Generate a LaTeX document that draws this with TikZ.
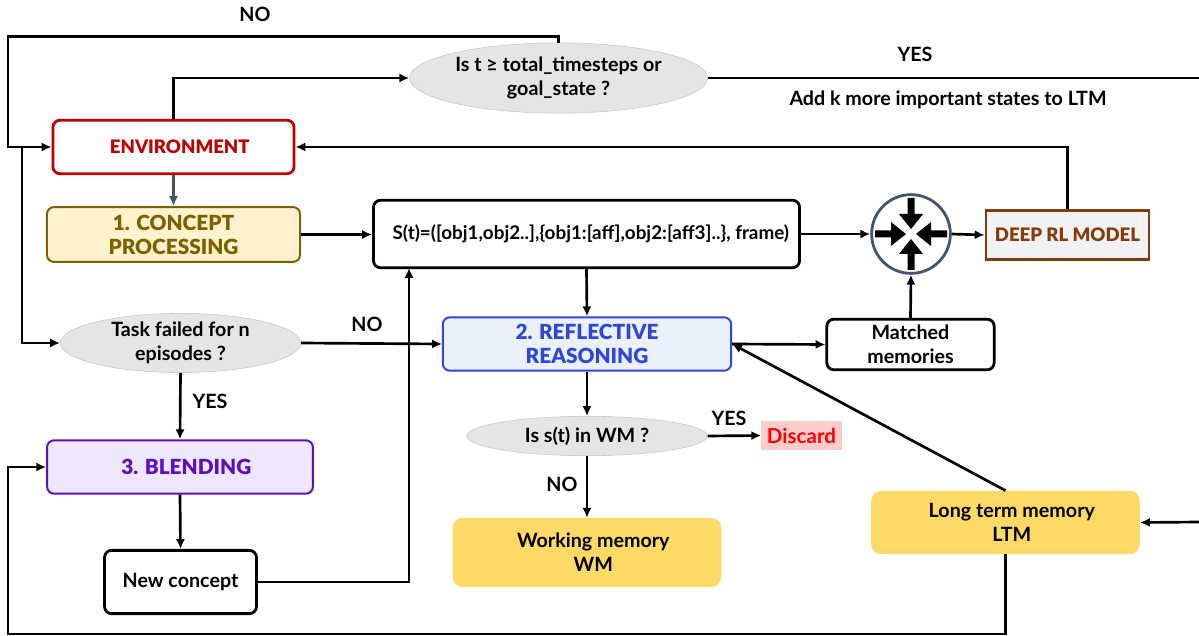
\documentclass[tikz,border=0pt]{standalone}
\usepackage{fontspec}
\setmainfont{Lato}
\newfontfamily\heavyfont{Lato Black}
\usetikzlibrary{shapes.geometric, arrows.meta}

\definecolor{envred}{HTML}{C00000}
\definecolor{conceptink}{HTML}{7F6000}
\definecolor{conceptfill}{HTML}{FFF2CC}
\definecolor{reflectink}{HTML}{2F46D8}
\definecolor{reflectfill}{HTML}{EAF1FB}
\definecolor{blendink}{HTML}{5B0FBE}
\definecolor{blendfill}{HTML}{EEE6FD}
\definecolor{modelink}{HTML}{843C0C}
\definecolor{memfill}{HTML}{FFD966}
\definecolor{slate}{HTML}{44546A}
\newcommand{\nudge}{\hspace*{9pt}}

\tikzset{
	txt/.style = {font = \fontsize{14}{17}\selectfont\bfseries, align = center, inner sep = 0 pt},
	head/.style = {font = \fontsize{14.8}{17}\selectfont\heavyfont, align = center, inner sep = 0 pt},
	slim/.style = {font = \fontsize{13.2}{17}\selectfont\heavyfont},
	box/.style = {txt, draw, line width = 2 pt, rounded corners = 5 pt},
	stage/.style = {head, draw, line width = 1.4 pt, rounded corners = 5 pt},
	memory/.style = {txt, fill = memfill, rounded corners = 7 pt},
	test/.style = {txt, ellipse, fill = black!10, draw = black!22, line width = 0.4 pt},
	link/.style = {->, line width = 1.9 pt}
}

\begin{document}
\begin{tikzpicture}[> = {Latex[length=7pt, width=6.5pt]}, x = 0.025 cm, y = -0.025 cm]

	\useasboundingbox (0, 0) rectangle (1199, 636);

	% Stages

	\node [stage, slim, draw = envred, line width = 2 pt, text = envred, minimum width = 171.5 pt, minimum height = 38 pt] (env) at (173.5, 147) {\nudge ENVIRONMENT};
	\node [stage, draw = conceptink, fill = conceptfill, text = conceptink, minimum width = 180 pt, minimum height = 39 pt] (concept) at (173.5, 234.5) {1. CONCEPT\\PROCESSING};
	\node [stage, draw = reflectink, fill = reflectfill, text = reflectink, minimum width = 205 pt, minimum height = 38 pt] (reflect) at (587, 344) {2. REFLECTIVE\\REASONING};
	\node [stage, draw = blendink, fill = blendfill, text = blendink, minimum width = 189 pt, minimum height = 38 pt] (blend) at (180, 467) {\nudge 3. BLENDING};

	% White boxes

	\node [box, font = \fontsize{13.4}{17}\selectfont\bfseries, minimum width = 303 pt, minimum height = 48 pt] (state) at (586.5, 234) {\hspace*{6pt}S(t)=([obj1,obj2..],\{obj1:[aff],obj2:[aff3]..\}, frame)};
	\node [box, minimum width = 119 pt, minimum height = 36 pt] (matched) at (910.5, 344.5) {Matched\\memories};
	\node [box, minimum width = 108 pt, minimum height = 45 pt] (new) at (180.5, 582) {New concept};

	\node [head, slim, draw = modelink, fill = black!5, text = modelink, line width = 2 pt, minimum width = 116 pt, minimum height = 35 pt] (model) at (1067.5, 235) {DEEP RL MODEL};

	% Decisions

	\node [test, minimum width = 212 pt, minimum height = 50 pt] (goal) at (558.5, 78) {Is t ≥ total\_timesteps or\\goal\_state ?};
	\node [test, minimum width = 171 pt, minimum height = 42 pt] (task) at (180.5, 343) {Task failed for n\\episodes ?};
	\node [test, minimum width = 171 pt, minimum height = 28 pt] (inwm) at (587, 436) {Is s(t) in WM ?};

	% Memories

	\node [memory, minimum width = 191 pt, minimum height = 49 pt] (wm) at (587, 552.5) {\nudge Working memory\\\nudge WM};
	\node [memory, minimum width = 191 pt, minimum height = 45 pt] (ltm) at (1005.5, 522.5) {\nudge Long term memory\\\nudge LTM};
	\node [txt, font = \fontsize{14.6}{17}\selectfont\bfseries, fill = red!20, text = red, minimum width = 57 pt, minimum height = 21 pt] (discard) at (801.5, 435.5) {Discard};

	% Merge symbol

	\node [circle, draw = slate, line width = 2 pt, fill = white, minimum size = 56 pt, inner sep = 0 pt] (merge) at (911, 234) {};
	\foreach \a in {0, 90, 180, 270}
		\fill [shift = {(merge)}, rotate = \a] (-3.5, -36) -- (3.5, -36) -- (3.5, -20) -- (12, -20) -- (0, -5) -- (-12, -20) -- (-3.5, -20) -- cycle;

	% Free ends

	\coordinate (goal out) at (1199, 78);
	\coordinate (ltm in) at (1199, 522);
	\coordinate (split) at (22, 147);

	% Links

	\draw [link] (env.north) |- (goal.west);
	\draw [link] (goal.north) -- ++(0, -6) -| (8, 147) -- (env.west);
	\draw [link] (split) |- (task.west);
	\draw [link] (model.north) |- (env.east);
	\draw [link, draw = slate, fill = slate] (env.south) -- (concept.north);
	\draw [link] (concept.east) -- (concept.east -| state.west);
	\draw [link] (state.east) -- (merge.west);
	\draw [link] (merge.east) -- (model.west);
	\draw [link] (matched.north) -- (merge.south);
	\draw [link] (state.south) -- (reflect.north);
	\draw [link] (reflect.east) -- (matched.west);
	\draw [link] (ltm.north) -- (reflect.east);
	\draw [link] (task.east) -- (reflect.west);
	\draw [link] (task.south) -- (blend.north);
	\draw [link] (blend.south) -- (new.north);
	\draw [link] (new.east) -| (409, 268);
	\draw [link] (reflect.south) -- (inwm.north);
	\draw [link] (inwm.east) -- (discard.west);
	\draw [link] (inwm.south) -- (wm.north);
	\draw [link] (ltm.south) |- (8, 634) |- (blend.west);
	\draw [link] (ltm in) -- (ltm.east);
	\draw [line width = 1.9 pt] (goal.east) -- (goal out);

	% Link labels

	\node [txt] (no top) at (255, 14) {NO};
	\node [txt] (yes top) at (915, 54) {YES};
	\node [txt] (add k) at (948, 100) {Add k more important states to LTM};
	\node [txt] (no task) at (367, 324) {NO};
	\node [txt] (yes task) at (210, 401) {YES};
	\node [txt] (no wm) at (562, 484) {NO};
	\node [txt] (yes wm) at (729, 418) {YES};

\end{tikzpicture}
\end{document}
